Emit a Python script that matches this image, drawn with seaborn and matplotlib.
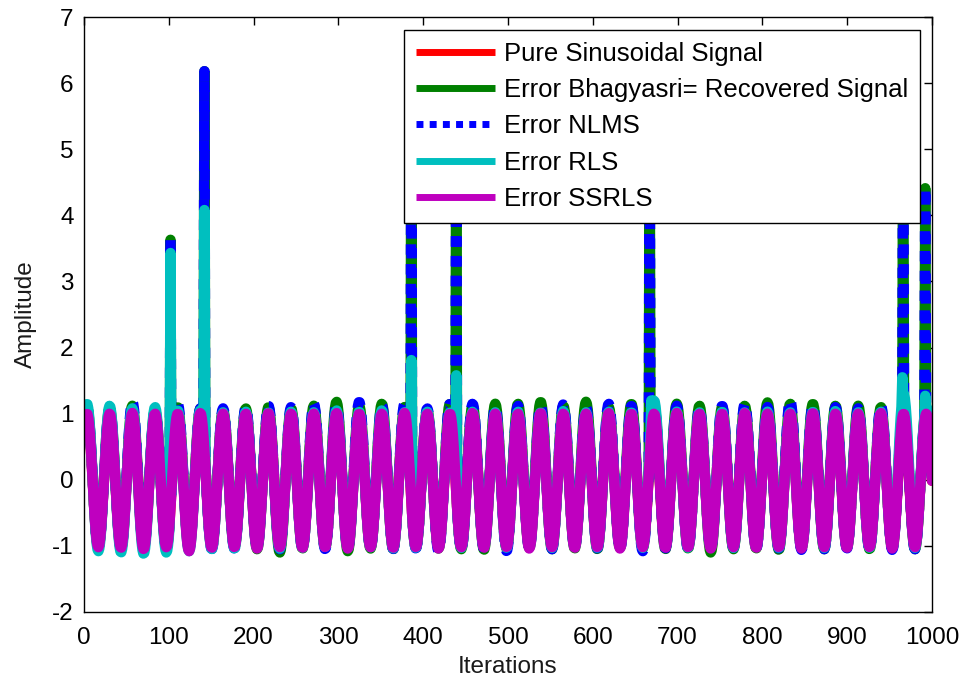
import numpy as np
import pandas as pd
import matplotlib
matplotlib.use("Agg")
import matplotlib.pyplot as plt
import seaborn as sns

# ---------------- data ----------------
labels = ["Pure Sinusoidal Signal", "Error Bhagyasri= Recovered Signal",
          "Error NLMS", "Error RLS", "Error SSRLS"]
x_ticks = [0, 100, 200, 300, 400, 500, 600, 700, 800, 900, 1000]
y_ticks = [-2, -1, 0, 1, 2, 3, 4, 5, 6, 7]

n_iter = 1000
first_peak = 3.5          # iteration of first crest
period = 26.75            # iterations per cycle (38 crests up to ~993)

# crest values (38) and trough values (39, one before first crest, one after last)
pure_peaks = [1.0] * 38
pure_troughs = [-1.0] * 39

green_peaks = [1.10, 1.08, 1.12, 1.05, 1.10, 1.08, 1.05, 1.08, 1.10, 1.08,
               1.12, 1.18, 1.12, 1.15, 1.10, 1.05, 1.15, 1.12, 1.15, 1.15,
               1.18, 1.12, 1.18, 1.10, 1.15, 1.12, 1.15, 1.12, 1.10, 1.12,
               1.17, 1.15, 1.15, 1.12, 1.12, 1.10, 1.10, 1.08]
green_troughs = [-1.00, -1.02, -1.05, -1.03, -1.04, -1.05, -1.03, -1.02, -1.05, -1.10,
                 -1.04, -1.03, -1.08, -1.04, -1.05, -1.03, -1.04, -1.05, -1.06, -1.04,
                 -1.03, -1.05, -1.04, -1.05, -1.03, -1.04, -1.05, -1.04, -1.10, -1.05,
                 -1.04, -1.06, -1.04, -1.05, -1.03, -1.05, -1.04, -1.05, -1.00]
blue_peaks = [1.10, 1.08, 1.18, 1.05, 1.15, 1.08, 1.08, 1.10, 1.12, 1.10,
              1.15, 1.12, 1.18, 1.12, 1.15, 1.08, 1.15, 1.15, 1.10, 1.12,
              1.12, 1.14, 1.10, 1.15, 1.12, 1.10, 1.12, 1.08, 1.12, 1.15,
              1.10, 1.20, 1.12, 1.10, 1.08, 1.12, 1.10, 1.08]
blue_troughs = [-1.00, -1.03, -1.04, -1.05, -1.03, -1.04, -1.05, -1.04, -1.03, -1.05,
                -1.04, -1.05, -1.04, -1.03, -1.05, -1.04, -1.08, -1.05, -1.04, -1.08,
                -1.04, -1.05, -1.03, -1.04, -1.05, -1.08, -1.04, -1.05, -1.04, -1.03,
                -1.05, -1.04, -1.06, -1.05, -1.04, -1.05, -1.06, -1.05, -1.00]
cyan_peaks = [1.15, 1.12, 1.08, 1.10, 1.05, 1.05, 1.02, 1.03, 1.02, 1.03,
              1.02, 1.05, 1.03, 1.05, 1.02, 1.03, 1.02, 1.03, 1.02, 1.03,
              1.02, 1.04, 1.02, 1.03, 1.02, 1.20, 1.03, 1.02, 1.03, 1.02,
              1.03, 1.02, 1.03, 1.04, 1.02, 1.03, 1.30, 1.10]
cyan_troughs = [-1.00, -1.08, -1.10, -1.12, -1.10, -1.08, -1.05, -1.04, -1.03, -1.04,
                -1.03, -1.02, -1.03, -1.02, -1.04, -1.03, -1.02, -1.03, -1.02, -1.03,
                -1.02, -1.03, -1.02, -1.03, -1.02, -1.03, -1.02, -1.03, -1.02, -1.03,
                -1.02, -1.03, -1.02, -1.03, -1.02, -1.03, -1.02, -1.03, -1.00]
magenta_peaks = [1.00, 1.00, 1.01, 1.00, 1.00, 1.01, 1.00, 1.00, 1.01, 1.00,
                 1.00, 1.01, 1.00, 1.00, 1.01, 1.00, 1.00, 1.01, 1.00, 1.00,
                 1.01, 1.00, 1.00, 1.01, 1.00, 1.00, 1.01, 1.00, 1.00, 1.01,
                 1.00, 1.00, 1.01, 1.00, 1.00, 1.01, 1.00, 1.00]
magenta_troughs = [-1.00, -1.02, -1.03, -1.05, -1.02, -1.08, -1.03, -1.02, -1.04, -1.02,
                   -1.03, -1.02, -1.04, -1.02, -1.03, -1.02, -1.04, -1.02, -1.03, -1.02,
                   -1.04, -1.02, -1.03, -1.02, -1.04, -1.02, -1.03, -1.02, -1.04, -1.02,
                   -1.03, -1.02, -1.04, -1.02, -1.03, -1.02, -1.04, -1.02, -1.00]

# impulsive disturbances (iteration, value)
green_spike_at = [102, 142, 386, 439, 667, 966, 992]
green_spike_val = [3.63, 6.18, 6.00, 6.00, 6.00, 6.00, 4.41]
blue_spike_at = [102, 142, 386, 439, 667, 966, 992]
blue_spike_val = [3.63, 6.18, 6.00, 6.00, 6.00, 6.00, 4.41]
cyan_spike_at = [102, 142, 386, 439, 669, 965, 992]
cyan_spike_val = [3.43, 4.08, 1.81, 1.58, 1.20, 1.55, 1.27]
magenta_spike_at = []
magenta_spike_val = []


def build(peaks, troughs, spike_at, spike_val):
    x = np.arange(0, n_iter + 1)
    ext_pos = [first_peak - period / 2]
    ext_val = [troughs[0]]
    for k, p in enumerate(peaks):
        ext_pos += [first_peak + k * period, first_peak + k * period + period / 2]
        ext_val += [p, troughs[k + 1]]
    ext_pos = np.array(ext_pos)
    ext_val = np.array(ext_val)
    idx = np.clip(np.searchsorted(ext_pos, x, side="right") - 1, 0, len(ext_pos) - 2)
    u = (x - ext_pos[idx]) / (ext_pos[idx + 1] - ext_pos[idx])
    y = ext_val[idx] + (ext_val[idx + 1] - ext_val[idx]) * (1 - np.cos(np.pi * u)) / 2
    for a, v in zip(spike_at, spike_val):
        y[a] = v
    return x, y


series = [
    (labels[0], pure_peaks, pure_troughs, [], [], "#ff0000", "-"),
    (labels[1], green_peaks, green_troughs, green_spike_at, green_spike_val, "#008000", "-"),
    (labels[2], blue_peaks, blue_troughs, blue_spike_at, blue_spike_val, "#0000ff", (0, (1.0, 0.9))),
    (labels[3], cyan_peaks, cyan_troughs, cyan_spike_at, cyan_spike_val, "#00bfbf", "-"),
    (labels[4], magenta_peaks, magenta_troughs, magenta_spike_at, magenta_spike_val, "#bf00bf", "-"),
]

# ---------------- plotting ----------------
sns.set_theme(style="white")
plt.rcParams["font.family"] = ["Liberation Sans", "DejaVu Sans"]
plt.rcParams["axes.unicode_minus"] = False

fig = plt.figure(figsize=(9.64, 6.84), dpi=100)
ax = fig.add_axes([84 / 964, 1 - 612 / 684, (932 - 84) / 964, (612 - 17) / 684])

for name, pk, tr, sa, sv, col, ls in series:
    x, y = build(pk, tr, sa, sv)
    df = pd.DataFrame({"Iterations": x, "Amplitude": y})
    sns.lineplot(data=df, x="Iterations", y="Amplitude", ax=ax, color=col,
                 linewidth=7.5, linestyle=ls, estimator=None, sort=False,
                 label=name, solid_capstyle="round", dash_capstyle="butt")

ax.set_xlim(0, 1000)
ax.set_ylim(-2, 7)
ax.set_xticks(x_ticks)
ax.set_yticks(y_ticks)
ax.tick_params(axis="both", which="both", direction="in", length=6, width=1,
               top=True, right=True, labelsize=17.5, colors="black")
ax.tick_params(axis="x", pad=10.5)
ax.tick_params(axis="y", pad=7.5)
for s in ax.spines.values():
    s.set_color("black")
    s.set_linewidth(1.0)
ax.set_xlabel("Iterations", fontsize=17.5, labelpad=5, color="#1a1a1a")
ax.set_ylabel("Amplitude", fontsize=17.5, labelpad=11, color="#1a1a1a")
ax.set_facecolor("white")

leg = ax.legend(loc="upper right", bbox_to_anchor=(0.986, 0.978), borderaxespad=0,
                fontsize=18.5, frameon=True, fancybox=False, framealpha=1,
                edgecolor="black", handlelength=3.1, handletextpad=0.35,
                labelspacing=0.48, borderpad=0.45)
leg.get_frame().set_linewidth(1.0)
for t in leg.get_texts():
    t.set_color("black")
for h in leg.get_lines():
    h.set_linewidth(5)
    h.set_solid_capstyle("butt")

fig.savefig("out.png", dpi=100, facecolor="white")
